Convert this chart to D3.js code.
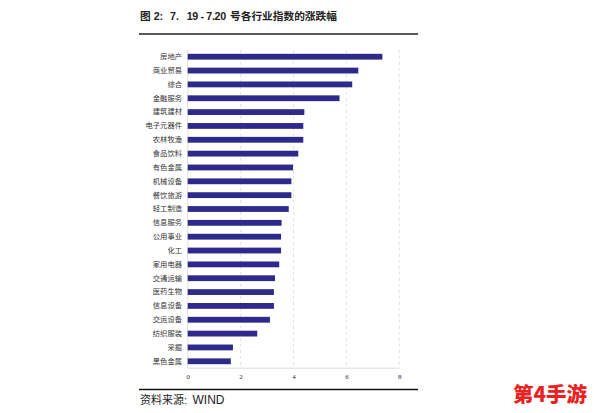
<!DOCTYPE html>
<html>
<head>
<meta charset="utf-8">
<script src="https://cdn.jsdelivr.net/npm/d3@7"></script>
<style>
html, body { margin: 0; padding: 0; background: #fff; }
svg { display: block; }
</style>
</head>
<body>
<svg id="chart" width="594" height="413"></svg>
<script>
var categories = ['房地产', '商业贸易', '综合', '金融服务', '建筑建材', '电子元器件', '农林牧渔', '食品饮料',
    '有色金属', '机械设备', '餐饮旅游', '轻工制造', '信息服务', '公用事业', '化工', '家用电器',
    '交通运输', '医药生物', '信息设备', '交运设备', '纺织服装', '采掘', '黑色金属'];
var changes = [7.36, 6.45, 6.22, 5.74, 4.41, 4.37, 4.37, 4.18, 3.98, 3.92, 3.92, 3.82,
    3.55, 3.53, 3.53, 3.46, 3.30, 3.26, 3.26, 3.11, 2.63, 1.71, 1.63];
var xTicks = [0, 2, 4, 6, 8];

var cjk = '"Noto Sans CJK SC", sans-serif';
var latin = '"Liberation Sans", ' + cjk;
var svg = d3.select('#chart');

var x = d3.scaleLinear().domain([0, 8]).range([187.7, 399.3]);
var y = d3.scaleBand().domain(categories).range([49.8, 368.2]).paddingInner(0.58).paddingOuter(0.29);

// grid first so the bars sit on top
svg.append('g')
    .selectAll('line')
    .data(xTicks)
    .enter().append('line')
    .attr('x1', function(d) { return x(d); })
    .attr('x2', function(d) { return x(d); })
    .attr('y1', 49.8)
    .attr('y2', 368.2)
    .attr('stroke', '#d4d4d4')
    .attr('stroke-width', 0.7)
    .attr('stroke-dasharray', function(d) { return d === 0 ? null : '3,3'; });

svg.append('line')
    .attr('x1', x(0)).attr('x2', x(8))
    .attr('y1', 368.2).attr('y2', 368.2)
    .attr('stroke', '#d4d4d4')
    .attr('stroke-width', 0.8);

svg.append('g')
    .selectAll('rect')
    .data(categories)
    .enter().append('rect')
    .attr('x', x(0))
    .attr('y', function(d) { return y(d); })
    .attr('width', function(d, i) { return x(changes[i]) - x(0); })
    .attr('height', y.bandwidth())
    .attr('fill', '#2e2a8c');

var yAxis = d3.axisLeft(y).tickSize(0).tickPadding(5.7);
svg.append('g')
    .attr('transform', 'translate(' + x(0) + ',0)')
    .call(yAxis)
    .call(function(g) { g.select('.domain').remove(); })
    .selectAll('text')
    .attr('font-family', cjk)
    .attr('font-size', 7.3)
    .attr('fill', '#333');

var xAxis = d3.axisBottom(x).tickValues(xTicks).tickSize(0).tickFormat(d3.format('d'));
svg.append('g')
    .attr('transform', 'translate(0,371.5)')
    .call(xAxis)
    .call(function(g) { g.select('.domain').remove(); })
    .selectAll('text')
    .attr('font-family', '"Liberation Serif", serif')
    .attr('font-size', 7)
    .attr('fill', '#333');

// header and footer rules
svg.append('line').attr('x1', 139).attr('x2', 418).attr('y1', 34).attr('y2', 34)
    .attr('stroke', '#222').attr('stroke-width', 1.6);
svg.append('line').attr('x1', 139).attr('x2', 418).attr('y1', 389.5).attr('y2', 389.5)
    .attr('stroke', '#111').attr('stroke-width', 1.6);

var title = svg.append('text')
    .attr('y', 19.5)
    .attr('font-family', latin)
    .attr('font-size', 10.7)
    .attr('font-weight', 'bold')
    .attr('fill', '#222');
title.append('tspan').attr('x', 140).text('图 2:');
title.append('tspan').attr('x', 170).text('7.');
title.append('tspan').attr('x', 186.7).text('19 - 7.20').attr('letter-spacing', -0.35);
title.append('tspan').attr('x', 230).text('号各行业指数的涨跌幅');

var source = svg.append('text')
    .attr('y', 404)
    .attr('font-family', latin)
    .attr('fill', '#222');
source.append('tspan').attr('x', 140).attr('font-size', 11).text('资料来源:');
source.append('tspan').attr('x', 192.5).attr('font-size', 12).text('WIND');

svg.append('text')
    .attr('x', 513).attr('y', 402)
    .attr('font-family', cjk)
    .attr('font-size', 20.5)
    .attr('font-weight', 900)
    .attr('fill', '#e8231f')
    .text('第4手游');
</script>
</body>
</html>
